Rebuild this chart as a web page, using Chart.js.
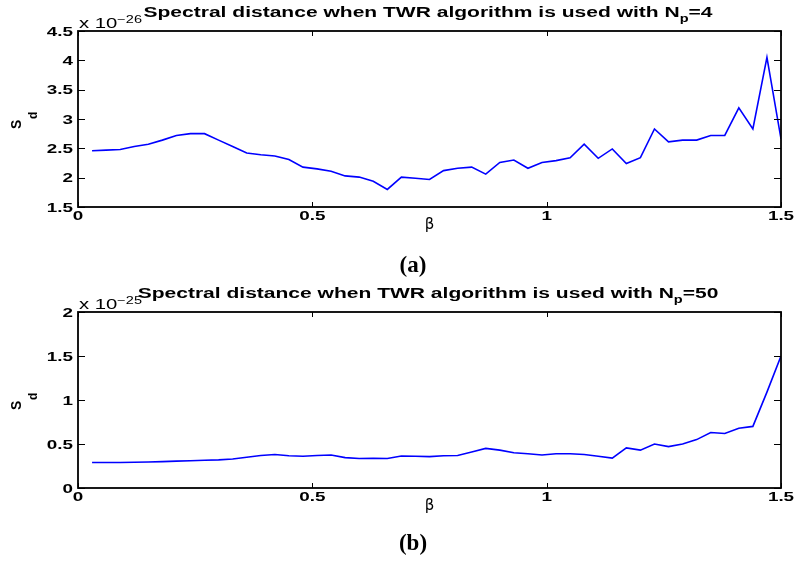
<!DOCTYPE html>
<html>
<head>
<meta charset="utf-8">
<script src="https://cdn.jsdelivr.net/npm/chart.js@4.4.0/dist/chart.umd.min.js"></script>
<style>
    html, body { margin: 0; padding: 0; background: #fff; }
    .panel { position: absolute; left: 0; width: 798px; height: 282px; }
</style>
</head>
<body>
<div class="panel" style="top:0"><canvas id="chartA" width="798" height="282"></canvas></div>
<div class="panel" style="top:282px"><canvas id="chartB" width="798" height="282"></canvas></div>
<script>
// beta values (x axis)
const betaValues = [0.03, 0.06, 0.09, 0.12, 0.15, 0.18, 0.21, 0.24, 0.27, 0.30,
    0.33, 0.36, 0.39, 0.42, 0.45, 0.48, 0.51, 0.54, 0.57, 0.60,
    0.63, 0.66, 0.69, 0.72, 0.75, 0.78, 0.81, 0.84, 0.87, 0.90,
    0.93, 0.96, 0.99, 1.02, 1.05, 1.08, 1.11, 1.14, 1.17, 1.20,
    1.23, 1.26, 1.29, 1.32, 1.35, 1.38, 1.41, 1.44, 1.47, 1.50];

// spectral distance, Np = 4 (x 1e-26)
const sdNp4 = [2.46, 2.47, 2.48, 2.53, 2.57, 2.64, 2.72, 2.75, 2.75, 2.64,
    2.53, 2.42, 2.39, 2.37, 2.31, 2.18, 2.15, 2.11, 2.03, 2.01,
    1.94, 1.80, 2.01, 1.99, 1.97, 2.12, 2.16, 2.18, 2.06, 2.26,
    2.30, 2.16, 2.26, 2.29, 2.34, 2.57, 2.33, 2.49, 2.24, 2.34,
    2.83, 2.61, 2.64, 2.64, 2.72, 2.72, 3.19, 2.83, 4.05, 2.66];

// spectral distance, Np = 50 (x 1e-25)
const sdNp50 = [0.29, 0.29, 0.29, 0.293, 0.295, 0.30, 0.305, 0.31, 0.315, 0.32,
    0.33, 0.35, 0.37, 0.38, 0.367, 0.36, 0.37, 0.375, 0.345, 0.335,
    0.337, 0.335, 0.364, 0.36, 0.356, 0.367, 0.37, 0.41, 0.45, 0.43,
    0.40, 0.39, 0.375, 0.39, 0.39, 0.38, 0.36, 0.34, 0.455, 0.43,
    0.50, 0.47, 0.50, 0.55, 0.63, 0.62, 0.68, 0.70, 1.09, 1.50];

// tick labels
const xTicks = [0, 0.5, 1, 1.5];
const yTicksA = [1.5, 2, 2.5, 3, 3.5, 4, 4.5];
const yTicksB = [0, 0.5, 1, 1.5, 2];

const SX = 1.45; // horizontal text stretch of the original figure

// draw a run of text pieces (normal / sub / sup) with a horizontal stretch
function drawRich(ctx, parts, x, baseline, align) {
    let total = 0;
    parts.forEach(p => {
        ctx.font = p.font;
        total += ctx.measureText(p.t).width;
    });
    let start = x;
    if (align === 'center') start = x - total * SX / 2;
    if (align === 'right') start = x - total * SX;
    ctx.save();
    ctx.translate(start, baseline);
    ctx.scale(SX, 1);
    ctx.textAlign = 'left';
    ctx.textBaseline = 'alphabetic';
    let cx = 0;
    parts.forEach(p => {
        ctx.font = p.font;
        ctx.fillText(p.t, cx, p.dy || 0);
        cx += ctx.measureText(p.t).width;
    });
    ctx.restore();
}

const BIG = 'bold 14.5px "Liberation Sans", Arial, sans-serif';
const SMALL = 'bold 10px "Liberation Sans", Arial, sans-serif';
const REG = '14px "Liberation Sans", Arial, sans-serif';
const REGSMALL = '10px "Liberation Sans", Arial, sans-serif';
const TICK = 'bold 13px "Liberation Sans", Arial, sans-serif';

function matlabPlugin(opts) {
    return {
        id: 'matlabFrame',
        afterDraw(chart) {
            const ctx = chart.ctx;
            const a = chart.chartArea;
            const xs = chart.scales.x;
            const ys = chart.scales.y;
            ctx.save();
            ctx.fillStyle = '#000';
            ctx.strokeStyle = '#000';

            // inward ticks on all four sides
            ctx.lineWidth = 1;
            ctx.beginPath();
            xs.ticks.forEach(t => {
                const px = Math.round(xs.getPixelForValue(t.value)) + 0.5;
                ctx.moveTo(px, a.bottom); ctx.lineTo(px, a.bottom - 5);
                ctx.moveTo(px, a.top); ctx.lineTo(px, a.top + 5);
            });
            ys.ticks.forEach(t => {
                const py = Math.round(ys.getPixelForValue(t.value)) + 0.5;
                ctx.moveTo(a.left, py); ctx.lineTo(a.left + 7, py);
                ctx.moveTo(a.right, py); ctx.lineTo(a.right - 7, py);
            });
            ctx.stroke();

            // box
            ctx.lineWidth = 1.8;
            ctx.strokeRect(a.left, a.top, a.right - a.left, a.bottom - a.top);

            // tick labels
            xs.ticks.forEach(t => {
                drawRich(ctx, [{ t: String(t.value), font: TICK }],
                    xs.getPixelForValue(t.value), a.bottom + 13, 'center');
            });
            ys.ticks.forEach(t => {
                drawRich(ctx, [{ t: String(t.value), font: TICK }],
                    a.left - 5, ys.getPixelForValue(t.value) + 4.6, 'right');
            });

            // exponent label
            drawRich(ctx, [
                { t: 'x 10', font: REG },
                { t: opts.exponent, font: REGSMALL, dy: -5 }
            ], a.left + 1, a.top - 3, 'left');

            // title
            drawRich(ctx, [
                { t: 'Spectral distance when TWR algorithm is used with N', font: BIG },
                { t: 'p', font: SMALL, dy: 5 },
                { t: '=' + opts.np, font: BIG }
            ], 428, a.top - 14, 'center');

            // x label
            ctx.font = '15px "DejaVu Sans", sans-serif';
            ctx.textAlign = 'center';
            ctx.textBaseline = 'alphabetic';
            ctx.fillText('β', (a.left + a.right) / 2, a.bottom + 22);

            // y label S_d (rotated)
            ctx.save();
            ctx.translate(21, (a.top + a.bottom) / 2 + 10);
            ctx.rotate(-Math.PI / 2);
            ctx.textAlign = 'left';
            ctx.font = 'bold 14px "Liberation Sans", Arial, sans-serif';
            ctx.fillText('S', 0, 0);
            ctx.font = 'bold 12px "Liberation Sans", Arial, sans-serif';
            ctx.fillText('d', 10, 16);
            ctx.restore();

            // panel letter
            ctx.font = 'bold 23px "Liberation Serif", "Times New Roman", serif';
            ctx.textAlign = 'center';
            ctx.fillText(opts.letter, 413, opts.letterY);

            ctx.restore();
        }
    };
}

function makeChart(id, values, yTicks, yMin, yMax, padTop, xHeight, opts) {
    const points = betaValues.map((b, i) => ({ x: b, y: values[i] }));
    return new Chart(document.getElementById(id), {
        type: 'line',
        data: {
            datasets: [{
                data: points,
                borderColor: '#0000ff',
                borderWidth: 1.6,
                pointRadius: 0,
                tension: 0,
                fill: false
            }]
        },
        options: {
            responsive: false,
            animation: false,
            layout: { padding: { top: padTop, right: 17, left: 0, bottom: 0 } },
            plugins: {
                legend: { display: false },
                tooltip: { enabled: false },
                title: { display: false }
            },
            scales: {
                x: {
                    type: 'linear',
                    min: 0,
                    max: 1.5,
                    afterBuildTicks: s => { s.ticks = xTicks.map(v => ({ value: v })); },
                    afterFit: s => { s.height = xHeight; },
                    grid: { display: false, drawTicks: false },
                    border: { display: false },
                    ticks: { display: false }
                },
                y: {
                    type: 'linear',
                    min: yMin,
                    max: yMax,
                    afterBuildTicks: s => { s.ticks = yTicks.map(v => ({ value: v })); },
                    afterFit: s => { s.width = 78; },
                    grid: { display: false, drawTicks: false },
                    border: { display: false },
                    ticks: { display: false }
                }
            }
        },
        plugins: [matlabPlugin(opts)]
    });
}

makeChart('chartA', sdNp4, yTicksA, 1.5, 4.5, 31, 75,
    { exponent: '−26', np: '4', letter: '(a)', letterY: 272 });
makeChart('chartB', sdNp50, yTicksB, 0, 2, 30, 76,
    { exponent: '−25', np: '50', letter: '(b)', letterY: 268 });
</script>
</body>
</html>
